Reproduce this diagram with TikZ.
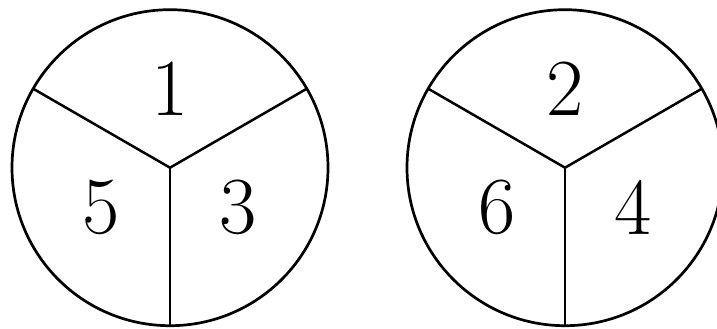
\documentclass[tikz,border=0pt]{standalone}
\usetikzlibrary{calc}
\begin{document}
\begin{tikzpicture}[x=1pt,y=1pt,
  rim/.style={line width=2.7pt},
  spoke/.style={line width=2.5pt},
  lab/.style={inner sep=0pt,font=\fontsize{81}{90}\selectfont}]
\useasboundingbox (0,0) rectangle (717,329);
\clip (0,0) rectangle (717,329);
\foreach \n/\cx/\a/\b/\c in {L/170/1/5/3,R/565/2/6/4}{
  \coordinate (c\n) at (\cx,161.3);
  \draw[rim] (c\n) circle[radius=158];
  \coordinate (p\n1) at ($(c\n)+(150:158)$);
  \coordinate (p\n2) at ($(c\n)+(30:158)$);
  \coordinate (p\n3) at ($(c\n)+(270:158)$);
  \draw[spoke] (p\n1) -- (c\n) -- (p\n2);
  \draw[spoke] (c\n) -- (p\n3);
  \node[lab] (t\n a) at ($(c\n)+(90:79)$) {\a};
  \node[lab] (t\n b) at ($(c\n)+(210:79)$) {\b};
  \node[lab] (t\n c) at ($(c\n)+(330:79)$) {\c};
}
\end{tikzpicture}
\end{document}
